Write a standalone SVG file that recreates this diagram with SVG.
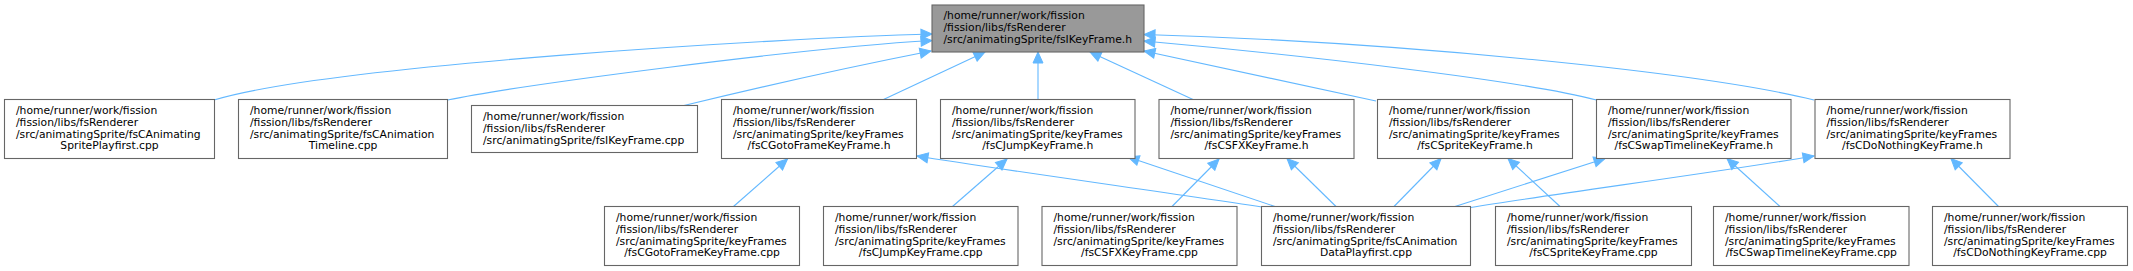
<svg xmlns="http://www.w3.org/2000/svg" width="2133" height="271" viewBox="0 0 2133 271">
<style>
.n rect{fill:#fff;stroke:#666;stroke-width:1.1}
.root rect{fill:#999}
text{font-family:"DejaVu Sans","Liberation Sans",sans-serif;font-size:10.75px;fill:#000}
.c{text-anchor:middle}
#edges path{fill:none;stroke:#63b8ff;stroke-width:1.1;marker-end:url(#ah)}
</style>
<defs>
<marker id="ah" markerUnits="userSpaceOnUse" markerWidth="14" markerHeight="12" refX="11" refY="5" orient="auto" viewBox="-1 -1 14 12">
<path d="M0,0 L11,5 L0,10 Z" fill="#63b8ff" stroke="#63b8ff" stroke-width="1"/>
</marker>
</defs>
<g id="edges">
<path d="M214,100 C330,65 780,38 932,34"/>
<path d="M447.5,100 C520,85 800,48 932,40.5"/>
<path d="M684,105.5 C760,87 860,65 931,51"/>
<path d="M883.5,99.5 L985,52"/>
<path d="M1038,99.5 L1038,52"/>
<path d="M1193,99.5 L1090,52"/>
<path d="M1376,101 L1144,51"/>
<path d="M1596.5,100 C1520,80 1300,55 1144,41"/>
<path d="M1814,100 C1700,72 1400,42 1144,34.5"/>
<path d="M733.5,206.5 L787.5,159"/>
<path d="M1262,207 C1150,190 990,168 917,156"/>
<path d="M952.5,206.5 L1007,159"/>
<path d="M1275,206.5 L1128,157"/>
<path d="M1172,206.5 L1219,159"/>
<path d="M1336,206.5 L1287,158.5"/>
<path d="M1394,206.5 L1441,158.5"/>
<path d="M1560,206.5 L1508,158.5"/>
<path d="M1455,206.5 L1605,158.5"/>
<path d="M1780,206.5 L1727,158.5"/>
<path d="M1470.5,207.5 C1560,193 1720,172 1814,156"/>
<path d="M1998.5,206.5 L1951,158.5"/>
</g>
<g id="root" class="n root">
<rect x="932" y="5" width="212" height="47"/>
<text x="943.5" y="19.3">/home/runner/work/fission</text>
<text x="943.5" y="31">/fission/libs/fsRenderer</text>
<text x="943.5" y="42.7">/src/animatingSprite/fsIKeyFrame.h</text>
</g>
<g id="nA" class="n">
<rect x="4.5" y="99.5" width="210" height="59"/>
<text x="16" y="114">/home/runner/work/fission</text>
<text x="16" y="125.8">/fission/libs/fsRenderer</text>
<text x="16" y="137.6">/src/animatingSprite/fsCAnimating</text>
<text class="c" x="109.5" y="149.4">SpritePlayfirst.cpp</text>
</g>
<g id="nB" class="n">
<rect x="238.5" y="99.5" width="209" height="59"/>
<text x="250" y="114">/home/runner/work/fission</text>
<text x="250" y="125.8">/fission/libs/fsRenderer</text>
<text x="250" y="137.6">/src/animatingSprite/fsCAnimation</text>
<text class="c" x="343" y="149.4">Timeline.cpp</text>
</g>
<g id="nC" class="n">
<rect x="471.5" y="105.5" width="226" height="47"/>
<text x="483" y="120">/home/runner/work/fission</text>
<text x="483" y="131.8">/fission/libs/fsRenderer</text>
<text x="483" y="143.6">/src/animatingSprite/fsIKeyFrame.cpp</text>
</g>
<g id="nD" class="n">
<rect x="721.5" y="99.5" width="195" height="59"/>
<text x="733" y="114">/home/runner/work/fission</text>
<text x="733" y="125.8">/fission/libs/fsRenderer</text>
<text x="733" y="137.6">/src/animatingSprite/keyFrames</text>
<text class="c" x="819" y="149.4">/fsCGotoFrameKeyFrame.h</text>
</g>
<g id="nE" class="n">
<rect x="940.5" y="99.5" width="194.5" height="59"/>
<text x="952" y="114">/home/runner/work/fission</text>
<text x="952" y="125.8">/fission/libs/fsRenderer</text>
<text x="952" y="137.6">/src/animatingSprite/keyFrames</text>
<text class="c" x="1037.75" y="149.4">/fsCJumpKeyFrame.h</text>
</g>
<g id="nF" class="n">
<rect x="1159" y="99.5" width="195" height="59"/>
<text x="1170.5" y="114">/home/runner/work/fission</text>
<text x="1170.5" y="125.8">/fission/libs/fsRenderer</text>
<text x="1170.5" y="137.6">/src/animatingSprite/keyFrames</text>
<text class="c" x="1256.5" y="149.4">/fsCSFXKeyFrame.h</text>
</g>
<g id="nG" class="n">
<rect x="1377.5" y="99.5" width="195" height="59"/>
<text x="1389" y="114">/home/runner/work/fission</text>
<text x="1389" y="125.8">/fission/libs/fsRenderer</text>
<text x="1389" y="137.6">/src/animatingSprite/keyFrames</text>
<text class="c" x="1475" y="149.4">/fsCSpriteKeyFrame.h</text>
</g>
<g id="nH" class="n">
<rect x="1596.5" y="99.5" width="194.5" height="59"/>
<text x="1608" y="114">/home/runner/work/fission</text>
<text x="1608" y="125.8">/fission/libs/fsRenderer</text>
<text x="1608" y="137.6">/src/animatingSprite/keyFrames</text>
<text class="c" x="1693.75" y="149.4">/fsCSwapTimelineKeyFrame.h</text>
</g>
<g id="nI" class="n">
<rect x="1815" y="99.5" width="195" height="59"/>
<text x="1826.5" y="114">/home/runner/work/fission</text>
<text x="1826.5" y="125.8">/fission/libs/fsRenderer</text>
<text x="1826.5" y="137.6">/src/animatingSprite/keyFrames</text>
<text class="c" x="1912.5" y="149.4">/fsCDoNothingKeyFrame.h</text>
</g>
<g id="nJ" class="n">
<rect x="604.5" y="206.5" width="195" height="59"/>
<text x="616" y="221">/home/runner/work/fission</text>
<text x="616" y="232.8">/fission/libs/fsRenderer</text>
<text x="616" y="244.6">/src/animatingSprite/keyFrames</text>
<text class="c" x="702" y="256.4">/fsCGotoFrameKeyFrame.cpp</text>
</g>
<g id="nK" class="n">
<rect x="823.5" y="206.5" width="194.5" height="59"/>
<text x="835" y="221">/home/runner/work/fission</text>
<text x="835" y="232.8">/fission/libs/fsRenderer</text>
<text x="835" y="244.6">/src/animatingSprite/keyFrames</text>
<text class="c" x="920.75" y="256.4">/fsCJumpKeyFrame.cpp</text>
</g>
<g id="nL" class="n">
<rect x="1042" y="206.5" width="195" height="59"/>
<text x="1053.5" y="221">/home/runner/work/fission</text>
<text x="1053.5" y="232.8">/fission/libs/fsRenderer</text>
<text x="1053.5" y="244.6">/src/animatingSprite/keyFrames</text>
<text class="c" x="1139.5" y="256.4">/fsCSFXKeyFrame.cpp</text>
</g>
<g id="nM" class="n">
<rect x="1261.5" y="206.5" width="209" height="59"/>
<text x="1273" y="221">/home/runner/work/fission</text>
<text x="1273" y="232.8">/fission/libs/fsRenderer</text>
<text x="1273" y="244.6">/src/animatingSprite/fsCAnimation</text>
<text class="c" x="1366" y="256.4">DataPlayfirst.cpp</text>
</g>
<g id="nN" class="n">
<rect x="1495.5" y="206.5" width="196" height="59"/>
<text x="1507" y="221">/home/runner/work/fission</text>
<text x="1507" y="232.8">/fission/libs/fsRenderer</text>
<text x="1507" y="244.6">/src/animatingSprite/keyFrames</text>
<text class="c" x="1593.5" y="256.4">/fsCSpriteKeyFrame.cpp</text>
</g>
<g id="nO" class="n">
<rect x="1713.5" y="206.5" width="195.5" height="59"/>
<text x="1725" y="221">/home/runner/work/fission</text>
<text x="1725" y="232.8">/fission/libs/fsRenderer</text>
<text x="1725" y="244.6">/src/animatingSprite/keyFrames</text>
<text class="c" x="1811.25" y="256.4">/fsCSwapTimelineKeyFrame.cpp</text>
</g>
<g id="nP" class="n">
<rect x="1932.5" y="206.5" width="195" height="59"/>
<text x="1944" y="221">/home/runner/work/fission</text>
<text x="1944" y="232.8">/fission/libs/fsRenderer</text>
<text x="1944" y="244.6">/src/animatingSprite/keyFrames</text>
<text class="c" x="2030" y="256.4">/fsCDoNothingKeyFrame.cpp</text>
</g>
</svg>
